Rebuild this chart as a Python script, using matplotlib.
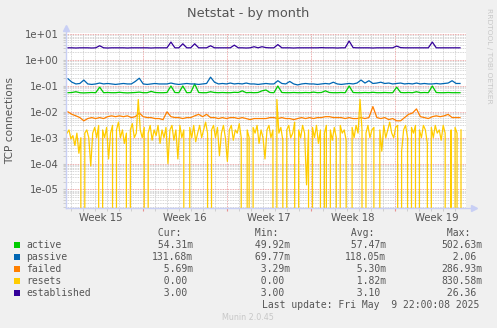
#munin style netstat graph, log scale
import numpy as np
import matplotlib
matplotlib.use('Agg')
import matplotlib.pyplot as plt
from matplotlib.ticker import FixedLocator, NullFormatter, FuncFormatter

# one sample every 8 hours over the month
active = [0.055, 0.056, 0.06, 0.055, 0.054, 0.055, 0.056, 0.055, 0.09, 0.055,
	0.056, 0.055, 0.055, 0.057, 0.055, 0.054, 0.055, 0.056, 0.058, 0.055,
	0.055, 0.062, 0.056, 0.055, 0.055, 0.056, 0.1, 0.056, 0.055, 0.1,
	0.055, 0.056, 0.12, 0.056, 0.055, 0.055, 0.06, 0.056, 0.055, 0.056,
	0.055, 0.055, 0.057, 0.056, 0.065, 0.055, 0.056, 0.055, 0.056, 0.065,
	0.07, 0.056, 0.055, 0.1, 0.056, 0.055, 0.055, 0.056, 0.055, 0.055,
	0.056, 0.055, 0.058, 0.055, 0.056, 0.065, 0.056, 0.055, 0.055, 0.056,
	0.055, 0.1, 0.056, 0.055, 0.055, 0.056, 0.055, 0.057, 0.055, 0.055,
	0.056, 0.055, 0.055, 0.09, 0.056, 0.055, 0.056, 0.055, 0.06, 0.055,
	0.056, 0.055, 0.1, 0.056, 0.055, 0.055, 0.056, 0.055, 0.055, 0.055]

passive = [0.19, 0.14, 0.12, 0.125, 0.17, 0.12, 0.115, 0.12, 0.13, 0.12,
	0.125, 0.12, 0.115, 0.12, 0.125, 0.12, 0.12, 0.15, 0.2, 0.12,
	0.115, 0.12, 0.125, 0.12, 0.12, 0.12, 0.13, 0.12, 0.115, 0.12,
	0.125, 0.12, 0.12, 0.115, 0.12, 0.125, 0.22, 0.14, 0.12, 0.125,
	0.12, 0.13, 0.12, 0.125, 0.12, 0.13, 0.12, 0.12, 0.115, 0.12,
	0.125, 0.12, 0.12, 0.16, 0.125, 0.12, 0.15, 0.12, 0.11, 0.12,
	0.125, 0.12, 0.12, 0.115, 0.12, 0.125, 0.12, 0.14, 0.12, 0.115,
	0.12, 0.125, 0.12, 0.13, 0.17, 0.13, 0.16, 0.125, 0.13, 0.14,
	0.125, 0.13, 0.12, 0.125, 0.13, 0.12, 0.125, 0.12, 0.13, 0.12,
	0.125, 0.12, 0.12, 0.125, 0.12, 0.125, 0.13, 0.16, 0.125, 0.125]

failed = [1.0e-2, 8e-3, 7e-3, 6e-3, 4.5e-3, 5.5e-3, 6e-3, 5.5e-3, 6e-3, 5.5e-3,
	6.5e-3, 7e-3, 6.5e-3, 7e-3, 6.5e-3, 7e-3, 6e-3, 6.5e-3, 9e-3, 6.5e-3,
	6e-3, 6e-3, 5.5e-3, 5.5e-3, 5e-3, 1e-2, 6.5e-3, 6e-3, 6e-3, 5.5e-3,
	6e-3, 6e-3, 7e-3, 8e-3, 6.5e-3, 8e-3, 6e-3, 6e-3, 5.5e-3, 6e-3,
	5.5e-3, 6e-3, 6e-3, 5.5e-3, 6e-3, 5.5e-3, 5e-3, 5.5e-3, 5.5e-3, 5.5e-3,
	5.5e-3, 6e-3, 6e-3, 5.5e-3, 6e-3, 5.5e-3, 5.5e-3, 5e-3, 5.5e-3, 6e-3,
	5.5e-3, 6e-3, 5.5e-3, 6e-3, 6e-3, 6.5e-3, 6.5e-3, 6e-3, 6e-3, 6e-3,
	5.5e-3, 6e-3, 5.5e-3, 5.5e-3, 6e-3, 5.5e-3, 6e-3, 1.6e-2, 6e-3, 5.5e-3,
	6e-3, 5e-3, 5.5e-3, 4.5e-3, 4.5e-3, 6e-3, 8e-3, 9e-3, 1.3e-2, 6.5e-3,
	6e-3, 5.5e-3, 6.5e-3, 7e-3, 6.5e-3, 7e-3, 8e-3, 6e-3, 6e-3, 6e-3]

# resets read at finer steps (every 4 hours), 0 = no resets
resets = [1.5e-3, 2e-3, 9e-4, 1.2e-3, 5e-4, 1.5e-3, 2.5e-4, 1e-3, 0, 1.5e-3,
	2e-3, 1e-3, 8e-5, 1.5e-3, 2.5e-3, 1e-3, 3e-3, 0, 2e-3, 1e-3,
	2.5e-3, 1.5e-4, 1.5e-3, 3e-3, 0, 2e-3, 4e-3, 1e-3, 2e-3, 6e-4,
	1.5e-3, 0, 2e-3, 3.5e-3, 1e-3, 1.5e-3, 3e-2, 2e-3, 1e-3, 2.5e-3,
	0, 1.5e-3, 3e-3, 8e-4, 2e-3, 1.2e-3, 3e-3, 6e-4, 2e-3, 1e-3,
	2.5e-3, 1e-4, 2e-3, 3e-3, 8e-4, 2e-3, 1.5e-4, 3e-3, 1e-3, 2e-3,
	0, 0, 2.5e-3, 1e-3, 3e-3, 7e-4, 1.5e-3, 3e-3, 1e-3, 2e-3,
	4e-3, 1.5e-3, 0, 2e-3, 3e-3, 1e-3, 2.5e-3, 2e-4, 1.5e-3, 3e-3,
	1e-3, 1.2e-4, 2e-3, 3e-3, 8e-4, 2e-3, 1.5e-3, 3.5e-3, 1e-3, 0,
	0, 2e-3, 1e-3, 0, 2.5e-3, 1.5e-3, 3e-3, 6e-4, 2e-3, 1e-3,
	1.5e-4, 2e-3, 3e-3, 1e-3, 2e-3, 0, 3e-2, 1.5e-3, 2.5e-3, 8e-4,
	0, 2e-3, 3e-3, 1e-3, 1.5e-3, 4e-3, 0, 2e-3, 1e-3, 3e-3,
	1.5e-3, 1.5e-5, 2e-3, 0, 2.5e-3, 1e-3, 3e-3, 6e-4, 2e-3, 0,
	1.5e-3, 3e-3, 0, 2e-3, 8e-4, 2.5e-3, 1e-3, 0, 3e-3, 1.5e-3,
	2e-3, 8e-4, 0, 0, 2.5e-3, 1e-3, 3e-3, 1.5e-3, 3e-2, 2e-3,
	0, 1.5e-3, 3e-3, 1e-3, 2e-3, 2.5e-3, 0, 0, 2e-3, 3e-4,
	3e-3, 1e-3, 2e-3, 4e-3, 1.5e-3, 1e-3, 2.5e-3, 3e-3, 0, 3e-4,
	2e-3, 3e-3, 1e-3, 0, 2.5e-3, 1.5e-3, 3e-3, 0, 2e-3, 1e-3,
	3e-3, 2e-3, 6e-4, 0, 2.5e-3, 1e-3, 3e-3, 1.5e-3, 2e-3, 8e-4,
	3e-3, 1.5e-3, 0, 0, 2e-3, 0, 2.5e-3, 1.5e-3, 0, 2e-3]

established = [3.0, 3.0, 2.95, 3.0, 3.0, 3.0, 2.95, 3.0, 3.6, 3.0,
	2.95, 3.0, 3.0, 3.0, 3.0, 2.95, 3.0, 3.0, 3.0, 3.0,
	3.0, 2.95, 3.0, 3.0, 3.0, 3.0, 5.0, 3.0, 3.0, 4.3,
	3.0, 3.0, 4.3, 3.0, 3.0, 3.0, 3.6, 3.0, 3.0, 3.0,
	3.0, 3.0, 3.8, 3.0, 3.0, 2.95, 3.0, 3.3, 3.0, 3.3,
	3.05, 3.0, 3.0, 4.0, 3.0, 3.0, 3.0, 2.95, 3.0, 3.0,
	3.0, 3.0, 3.0, 3.0, 3.05, 3.0, 3.0, 3.0, 2.95, 3.0,
	3.0, 5.5, 3.05, 3.0, 3.0, 3.0, 3.0, 2.95, 3.0, 3.0,
	3.0, 3.0, 3.0, 3.5, 3.05, 3.0, 3.0, 3.0, 3.0, 3.0,
	3.0, 3.0, 5.0, 3.0, 3.0, 3.0, 3.0, 3.0, 3.0, 3.0]

names = ["active", "passive", "failed", "resets", "established"]
colors = ["#00cc00", "#0066b3", "#ff8000", "#ffcc00", "#330099"]
cur = ["54.31m", "131.68m", "5.69m", "0.00 ", "3.00 "]
mins = ["49.92m", "69.77m", "3.29m", "0.00 ", "3.00 "]
avgs = ["57.47m", "118.05m", "5.30m", "1.82m", "3.10 "]
maxs = ["502.63m", "2.06 ", "286.93m", "830.58m", "26.36 "]

week_labels = ["Week 15", "Week 16", "Week 17", "Week 18", "Week 19"]
week_starts = [6.39, 13.39, 20.39, 27.39]   # days from left edge
span_days = 400 / 12.0
decades = [1e-5, 1e-4, 1e-3, 1e-2, 1e-1, 1e0, 1e1]

W, H = 497, 328
fig = plt.figure(figsize=(W / 100.0, H / 100.0), dpi=100)
fig.patch.set_facecolor("#f0f0f0")
ax = fig.add_axes([66.0 / W, 1 - 208.0 / H, 400.0 / W, 175.0 / H])
ax.set_facecolor("white")

series = [active, passive, failed, resets, established]
ax.set_yscale("log", nonpositive="clip")
for s, c in zip(series, colors):
	# samples are spread evenly over the month
	x = (np.arange(len(s)) + 0.5) * 33.0 / len(s)
	ax.plot(x, s, color=c, lw=0.9, zorder=3)

ax.set_xlim(0, span_days)
ax.set_ylim(10 ** -5.72, 10 ** 1.05)

# grid: days gray, weeks red, decades red
day_ticks = np.arange(week_starts[0] - 6, span_days, 1.0)
ax.xaxis.set_major_locator(FixedLocator(week_starts))
ax.xaxis.set_minor_locator(FixedLocator([d for d in day_ticks if min(abs(d - w) for w in week_starts) > 0.1]))
minor_y = [m * d for d in [1e-6] + decades for m in range(2, 10)]
ax.yaxis.set_major_locator(FixedLocator(decades))
ax.yaxis.set_minor_locator(FixedLocator([v for v in minor_y if 10 ** -5.72 < v < 10 ** 1.05]))
ax.yaxis.set_major_formatter(FuncFormatter(lambda v, p: "%.0e" % v))
ax.yaxis.set_minor_formatter(NullFormatter())
ax.xaxis.set_major_formatter(NullFormatter())

ax.grid(which="minor", color="#c8c8c8", ls=(0, (1, 1)), lw=0.6, zorder=1)
ax.grid(which="major", color="#e89090", ls=(0, (1, 1)), lw=0.6, zorder=1)
ax.tick_params(which="both", length=2, color="#c8c8c8", labelsize=7.3, labelcolor="#555555", pad=3)
ax.tick_params(axis="x", which="major", color="#e89090")

for lab, w in zip(week_labels, [week_starts[0] - 3.5] + [s + 3.5 for s in week_starts]):
	ax.text(w, -0.055, lab, transform=ax.get_xaxis_transform(), ha="center", va="center",
		fontsize=7.3, color="#555555")

for sp in ax.spines.values():
	sp.set_visible(False)
# axis lines with arrows
axcol = "#c8cff5"
ax.plot([0, 0], [0, 1.02], color=axcol, lw=1, transform=ax.transAxes, clip_on=False, zorder=4)
ax.plot([0, 1.02], [0, 0], color=axcol, lw=1, transform=ax.transAxes, clip_on=False, zorder=4)
ax.plot([0], [1.03], marker="^", ms=4, color=axcol, transform=ax.transAxes, clip_on=False)
ax.plot([1.02], [0], marker=">", ms=4, color=axcol, transform=ax.transAxes, clip_on=False)

ax.set_ylabel("TCP connections", fontsize=7.6, color="#555555")
ax.yaxis.set_label_coords((15 - 66) / 400.0, 0.5)

fig.text(248 / W, 1 - 13.5 / H, "Netstat - by month", ha="center", va="center", fontsize=9.3, color="#555555")
fig.text(489 / W, 1 - 56 / H, "RRDTOOL / TOBI OETIKER", rotation=270, ha="center", va="center",
	fontsize=5.4, color="#c8c8c8")

# legend block, monospace
mono = "DejaVu Sans Mono"
fs = 7.0
def px(xp, yp):
	return xp / W, 1 - yp / H

cols = [152.3, 249, 345, 441]
for hdr, xp in zip([" Cur:", " Min:", " Avg:", " Max:"], cols):
	fig.text(*px(xp, 232.5), hdr, family=mono, fontsize=fs, color="#555555", va="center", ha="left")

rows_y = [245, 257, 269, 281, 292.7]
for i in range(len(names)):
	yp = rows_y[i]
	fig.patches.append(plt.Rectangle(px(14, yp + 3), 6.0 / W, 6.0 / H, transform=fig.transFigure,
		facecolor=colors[i], edgecolor="none"))
	fig.text(*px(26, yp), names[i], family=mono, fontsize=fs, color="#555555", va="center")
	for val, xp in zip([cur[i], mins[i], avgs[i], maxs[i]], cols):
		fig.text(*px(xp, yp), "%7s" % val, family=mono, fontsize=fs, color="#555555", va="center")

fig.text(*px(262, 304.7), "Last update: Fri May  9 22:00:08 2025", family=mono, fontsize=fs,
	color="#555555", va="center")
fig.text(*px(248, 317), "Munin 2.0.45", ha="center", va="center", fontsize=5.8, color="#c8c8c8")

fig.savefig("out.png", dpi=100, facecolor=fig.get_facecolor())
